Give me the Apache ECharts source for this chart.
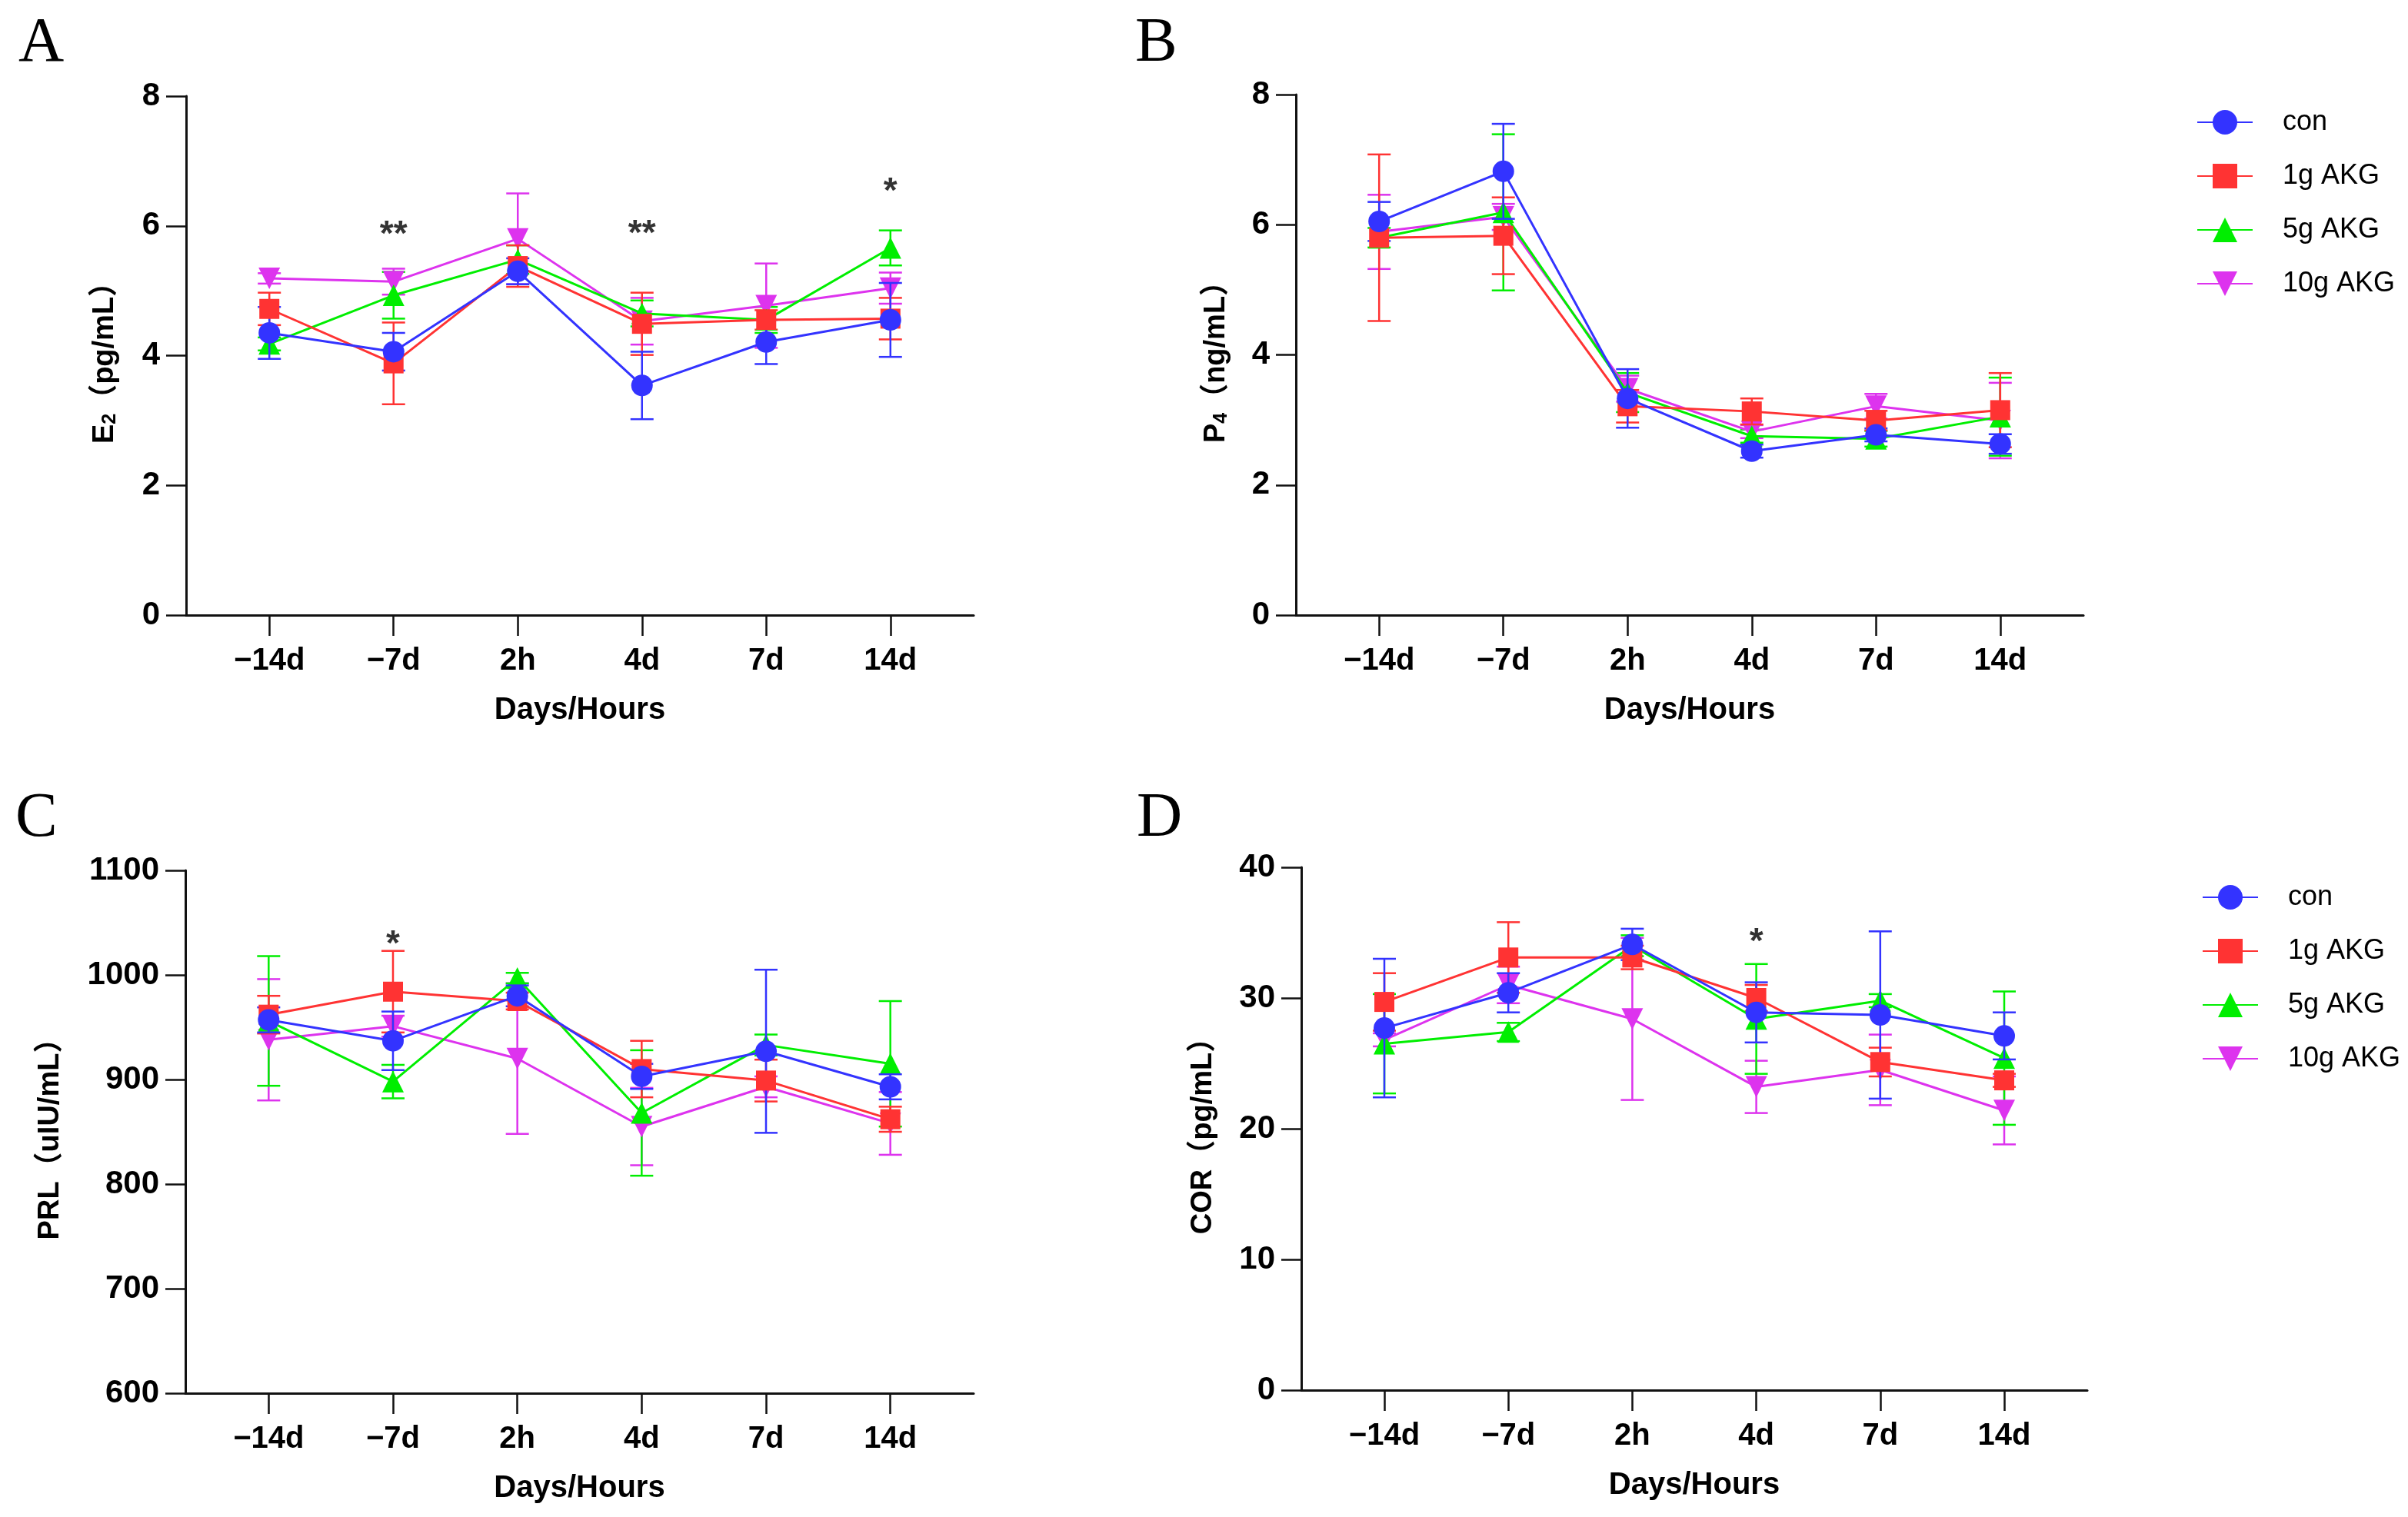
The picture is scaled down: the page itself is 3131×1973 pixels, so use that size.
<!DOCTYPE html>
<html>
<head>
    <meta charset="UTF-8">
    <title>Hormones</title>
    <script src="https://cdn.jsdelivr.net/npm/echarts/dist/echarts.min.js"></script>
    <style>
        body { margin: 0; padding: 0; background: #fff; }
        #chart { width: 3131px; height: 1973px; }
    </style>
</head>
<body>
    <div id="chart"></div>
    <script>
        const days = ['\u221214d', '\u22127d', '2h', '4d', '7d', '14d'];
        const groups = ['con', '1g AKG', '5g AKG', '10g AKG'];
        const colors = ['#3333ff', '#ff3333', '#00ee00', '#dd33ee'];
        const symbols = ['circle', 'rect', 'triangle', 'path://M0,0 L10,0 L5,9 Z'];

        // E2 (pg/mL), rows follow groups
        const e2Mean = [
            [4.35, 4.06, 5.30, 3.54, 4.21, 4.55],
            [4.72, 3.88, 5.38, 4.49, 4.55, 4.57],
            [4.18, 4.93, 5.48, 4.65, 4.55, 5.66],
            [5.19, 5.14, 5.80, 4.53, 4.77, 5.04]
        ];
        const e2Sem = [
            [0.40, 0.29, 0.20, 0.52, 0.34, 0.57],
            [0.25, 0.63, 0.32, 0.48, 0.15, 0.32],
            [0.10, 0.36, 0.22, 0.20, 0.20, 0.27],
            [0.08, 0.20, 0.70, 0.36, 0.65, 0.24]
        ];
        const e2Stars = [[1, 5.97, '**'], [3, 5.98, '**'], [5, 6.63, '*']];

        // P4 (ng/mL)
        const p4Mean = [
            [6.05, 6.82, 3.33, 2.52, 2.77, 2.63],
            [5.80, 5.83, 3.21, 3.13, 2.99, 3.15],
            [5.80, 6.19, 3.42, 2.75, 2.71, 3.05],
            [5.89, 6.12, 3.48, 2.82, 3.21, 2.99]
        ];
        const p4Sem = [
            [0.30, 0.73, 0.45, 0.10, 0.10, 0.15],
            [1.28, 0.59, 0.25, 0.20, 0.15, 0.57],
            [0.15, 1.20, 0.30, 0.10, 0.12, 0.60],
            [0.57, 0.20, 0.20, 0.10, 0.19, 0.58]
        ];
        const p4Stars = [];

        // PRL (uIU/mL)
        const prlMean = [
            [957, 937, 980, 903, 927, 893],
            [962, 984, 975, 910, 899, 862],
            [956, 898, 997, 868, 933, 915],
            [938, 951, 920, 855, 893, 858]
        ];
        const prlSem = [
            [12, 28, 10, 12, 78, 12],
            [18, 39, 8, 27, 20, 12],
            [62, 16, 5, 60, 10, 60],
            [58, 10, 72, 37, 10, 30]
        ];
        const prlStars = [[1, 1036, '*']];

        // COR (pg/mL)
        const corMean = [
            [27.7, 30.4, 34.1, 28.9, 28.7, 27.1],
            [29.7, 33.1, 33.1, 30.0, 25.1, 23.7],
            [26.5, 27.4, 34.0, 28.4, 29.8, 25.4],
            [26.8, 31.0, 28.4, 23.2, 24.5, 21.4]
        ];
        const corSem = [
            [5.3, 1.5, 1.2, 2.3, 6.4, 1.8],
            [2.2, 2.7, 0.9, 1.0, 1.1, 0.5],
            [3.8, 0.7, 0.8, 4.2, 0.5, 5.1],
            [0.5, 1.4, 6.2, 2.0, 2.7, 2.6]
        ];
        const corStars = [[3, 34.8, '*']];

        const FONT = '"Liberation Sans", Arial, "Noto Sans CJK SC", sans-serif';
        const tickIdx = [0, 1, 2, 3, 4, 5];

        const panels = [
            { grid: { left: 242, top: 125, width: 1024, height: 675 }, min: 0, max: 8, interval: 2,
              name: '{b|E}{s|2}{b|\uff08pg/mL\uff09}', nameGap: 86, mean: e2Mean, sem: e2Sem, stars: e2Stars },
            { grid: { left: 1685, top: 123, width: 1024, height: 677 }, min: 0, max: 8, interval: 2,
              name: '{b|P}{s|4}{b|\uff08ng/mL\uff09}', nameGap: 84, mean: p4Mean, sem: p4Sem, stars: p4Stars },
            { grid: { left: 241, top: 1132, width: 1025, height: 680 }, min: 600, max: 1100, interval: 100,
              name: '{b|PRL\uff08uIU/mL\uff09}', nameGap: 156, mean: prlMean, sem: prlSem, stars: prlStars },
            { grid: { left: 1692, top: 1128, width: 1022, height: 680 }, min: 0, max: 40, interval: 10,
              name: '{b|COR\uff08pg/mL\uff09}', nameGap: 108, mean: corMean, sem: corSem, stars: corStars }
        ];

        const axisLine = { show: true, onZero: false, lineStyle: { color: '#111', width: 3 } };
        const grids = [], xAxes = [], yAxes = [], series = [];

        panels.forEach((p, k) => {
            grids.push(p.grid);
            xAxes.push({
                type: 'value', gridIndex: k, min: -0.67, max: 5.67,
                name: 'Days/Hours', nameLocation: 'middle', nameGap: 104,
                nameTextStyle: { fontFamily: FONT, fontWeight: 'bold', fontSize: 40, color: '#000' },
                axisLine: axisLine,
                axisTick: { show: true, customValues: tickIdx, length: 27, lineStyle: { color: '#111', width: 2.5 } },
                axisLabel: { show: true, customValues: tickIdx, margin: 40, fontFamily: FONT, fontWeight: 'bold',
                             fontSize: 40, color: '#000', formatter: v => days[Math.round(v)] },
                splitLine: { show: false }
            });
            yAxes.push({
                type: 'value', gridIndex: k, min: p.min, max: p.max, interval: p.interval,
                name: p.name, nameLocation: 'middle', nameGap: p.nameGap, nameRotate: 90,
                nameTextStyle: {
                    color: '#000',
                    rich: {
                        b: { fontFamily: FONT, fontWeight: 'bold', fontSize: 38, color: '#000' },
                        s: { fontFamily: FONT, fontWeight: 'bold', fontSize: 25, color: '#000', verticalAlign: 'bottom', padding: [14, 0, 0, 0] }
                    }
                },
                axisLine: axisLine,
                axisTick: { show: true, length: 26, lineStyle: { color: '#111', width: 2.5 } },
                axisLabel: { margin: 34, fontFamily: FONT, fontWeight: 'bold', fontSize: 42, color: '#000',
                             formatter: v => String(v) },
                splitLine: { show: false }
            });

            // draw order: 10g first, con last (on top)
            for (let g = groups.length - 1; g >= 0; g--) {
                const col = colors[g];
                series.push({
                    type: 'custom', name: groups[g] + ' sem', xAxisIndex: k, yAxisIndex: k, z: 2 + (3 - g),
                    data: p.mean[g].map((m, i) => [i, m, p.sem[g][i]]),
                    renderItem: function (params, api) {
                        const x = api.value(0), m = api.value(1), e = api.value(2);
                        const hi = api.coord([x, m + e]), lo = api.coord([x, m - e]);
                        const st = { stroke: col, lineWidth: 2.5 };
                        const w = 15;
                        return {
                            type: 'group', children: [
                                { type: 'line', shape: { x1: hi[0], y1: hi[1], x2: lo[0], y2: lo[1] }, style: st },
                                { type: 'line', shape: { x1: hi[0] - w, y1: hi[1], x2: hi[0] + w, y2: hi[1] }, style: st },
                                { type: 'line', shape: { x1: lo[0] - w, y1: lo[1], x2: lo[0] + w, y2: lo[1] }, style: st }
                            ]
                        };
                    }
                });
                series.push({
                    type: 'line', name: groups[g], xAxisIndex: k, yAxisIndex: k, z: 3 + (3 - g),
                    data: p.mean[g].map((m, i) => [i, m]),
                    symbol: symbols[g], symbolSize: g === 1 ? 26 : 28,
                    showAllSymbol: true,
                    itemStyle: { color: col },
                    lineStyle: { color: col, width: 3 },
                    emphasis: { disabled: true }
                });
            }

            if (p.stars.length) {
                series.push({
                    type: 'scatter', name: 'sig', xAxisIndex: k, yAxisIndex: k, z: 10,
                    data: p.stars.map(s => ({ value: [s[0], s[1]], label: { formatter: s[2] } })),
                    symbolSize: 1, itemStyle: { color: 'rgba(0,0,0,0)' },
                    label: { show: true, position: 'inside', fontFamily: FONT, fontWeight: 'bold', fontSize: 46, color: '#000', offset: [0, 10] }
                });
            }
        });

        const legendBase = {
            data: groups, orient: 'vertical', itemWidth: 72, itemHeight: 40, itemGap: 34,
            textStyle: { fontFamily: FONT, fontSize: 36, color: '#000', padding: [0, 0, 0, 34] }
        };

        const letter = (t, x, y) => ({
            type: 'text', left: x, top: y,
            style: { text: t, font: '82px "Liberation Serif", "Times New Roman", serif', fill: '#000' }
        });

        const chart = echarts.init(document.getElementById('chart'), null, { renderer: 'canvas' });
        chart.setOption({
            animation: false,
            backgroundColor: '#fff',
            grid: grids,
            xAxis: xAxes,
            yAxis: yAxes,
            legend: [
                Object.assign({ left: 2851, top: 136 }, legendBase),
                Object.assign({ left: 2858, top: 1144 }, legendBase)
            ],
            graphic: [letter('A', 24, 16), letter('B', 1476, 16), letter('C', 20, 1024), letter('D', 1478, 1024)],
            series: series
        });
    </script>
</body>
</html>
